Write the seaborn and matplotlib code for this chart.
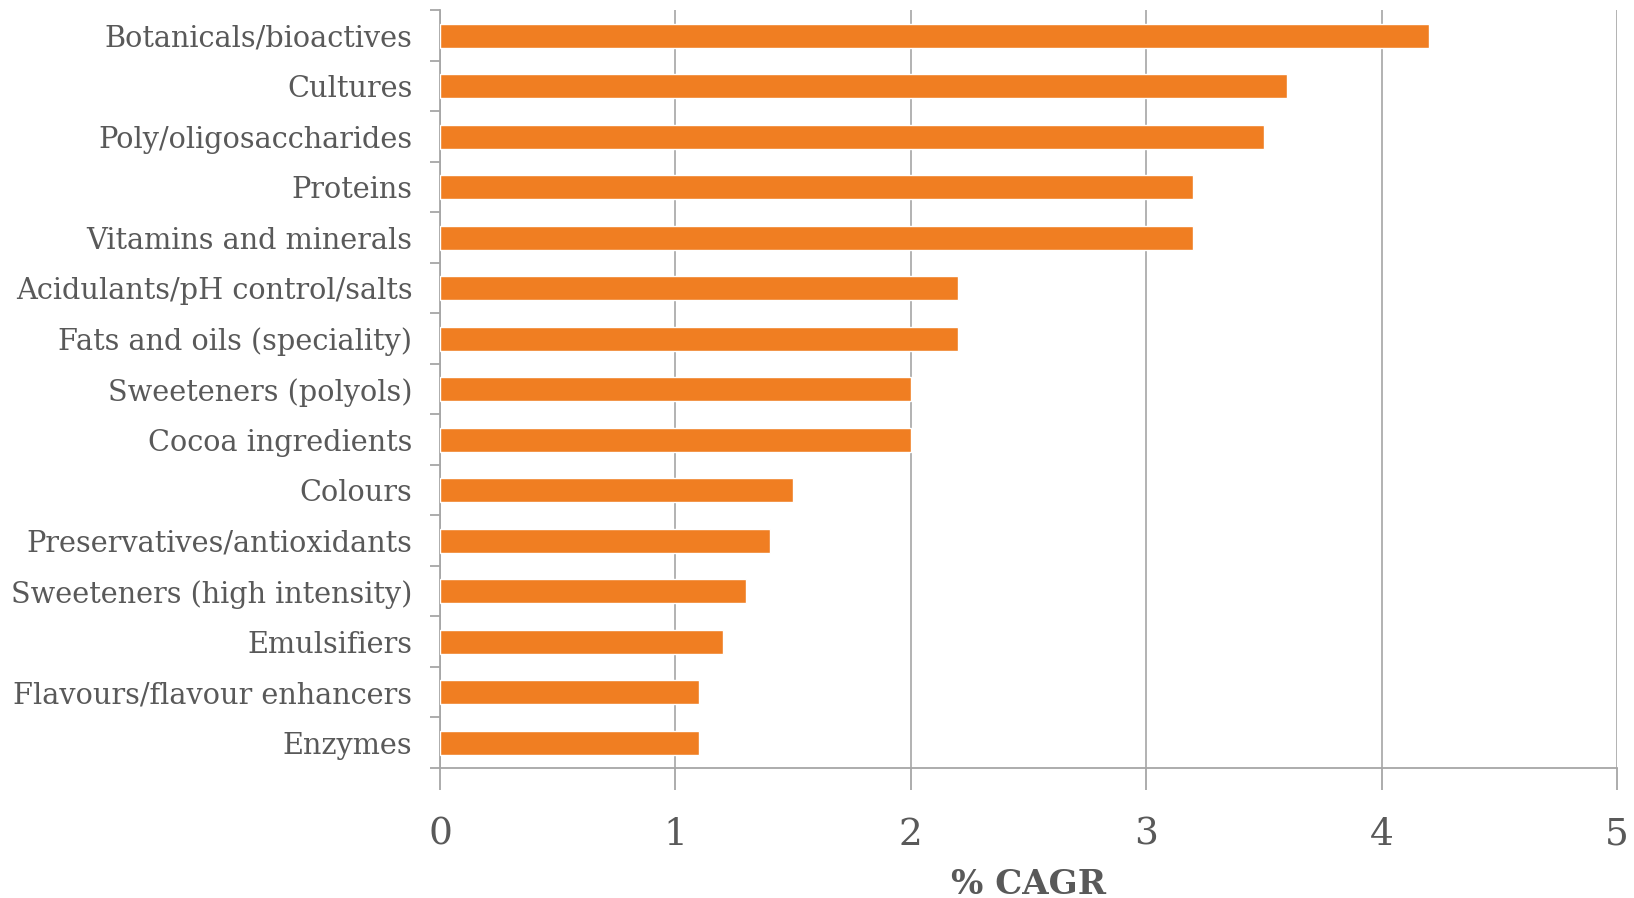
import matplotlib
matplotlib.use("Agg")
import matplotlib.pyplot as plt
from matplotlib.ticker import FixedLocator
import seaborn as sns
import pandas as pd

categories = [
    "Botanicals/bioactives",
    "Cultures",
    "Poly/oligosaccharides",
    "Proteins",
    "Vitamins and minerals",
    "Acidulants/pH control/salts",
    "Fats and oils (speciality)",
    "Sweeteners (polyols)",
    "Cocoa ingredients",
    "Colours",
    "Preservatives/antioxidants",
    "Sweeteners (high intensity)",
    "Emulsifiers",
    "Flavours/flavour enhancers",
    "Enzymes",
]
cagr = [4.2, 3.6, 3.5, 3.2, 3.2, 2.2, 2.2, 2.0, 2.0, 1.5, 1.4, 1.3, 1.2, 1.1, 1.1]
x_ticks = [0, 1, 2, 3, 4, 5]
x_label = "% CAGR"

sns.set_style("white")
plt.rcParams["font.family"] = ["DejaVu Serif", "Liberation Serif"]

text_color = "#595959"
axis_color = "#a6a6a6"
bar_color = "#F07E22"

df = pd.DataFrame({"category": categories, "cagr": cagr})

fig = plt.figure(figsize=(16.34, 8.98), dpi=100)
ax = fig.add_axes([0.2693, 0.1448, 0.7203, 0.8436])

sns.barplot(data=df, y="category", x="cagr", orient="h", color=bar_color,
            saturation=1, width=0.48, ax=ax, zorder=3)

ax.set_xlim(0, 5)
ax.set_ylim(len(categories) - 0.5, -0.5)
ax.xaxis.set_major_locator(FixedLocator(x_ticks))
ax.set_xticklabels([str(t) for t in x_ticks])

# vertical gridlines behind the bars
ax.grid(axis="x", color=axis_color, linewidth=1.2, zorder=0)
ax.grid(axis="y", visible=False)
ax.set_axisbelow(True)

for side in ("top", "right"):
    ax.spines[side].set_visible(False)
for side in ("left", "bottom"):
    ax.spines[side].set_color(axis_color)
    ax.spines[side].set_linewidth(1.3)

# category ticks sit on the boundaries between bars
ax.tick_params(axis="y", which="major", left=True, length=0, pad=20,
               labelsize=20.7, labelcolor=text_color)
ax.yaxis.set_minor_locator(FixedLocator([i - 0.5 for i in range(len(categories) + 1)]))
ax.tick_params(axis="y", which="minor", left=True, length=7, width=1.3, color=axis_color)

ax.tick_params(axis="x", which="major", bottom=True, length=16, width=1.3,
               color=axis_color, pad=19, labelsize=27, labelcolor=text_color)

ax.set_ylabel("")
ax.set_xlabel(x_label, fontsize=24.5, fontweight="bold", color=text_color, labelpad=11)

fig.savefig("out.png", dpi=100)
